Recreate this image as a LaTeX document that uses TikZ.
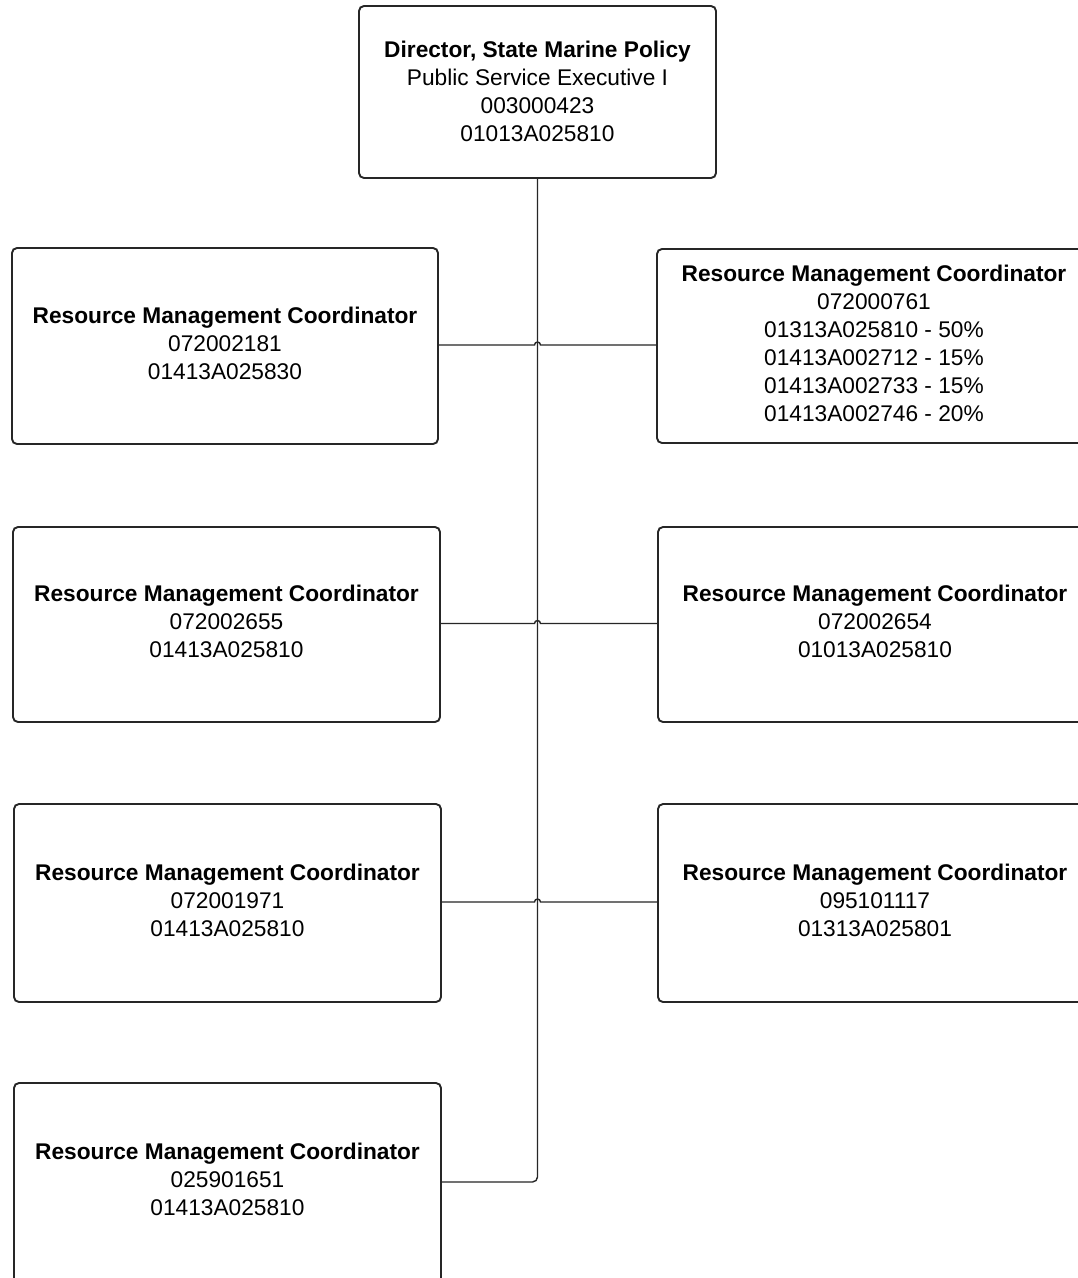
\documentclass[tikz,border=0pt]{standalone}
\usepackage{fontspec}
\setmainfont{Liberation Sans}
\newcommand{\lift}[1]{\rule[-#1]{0pt}{#1}}
\begin{document}
\begin{tikzpicture}[x=1pt,y=-1pt,
  box/.style={draw=black!85, line width=1.9pt, rounded corners=5pt, align=center, inner sep=0pt,
    font=\fontsize{22.7}{28}\selectfont},
  link/.style={draw=black!85, line width=1.4pt}]
\useasboundingbox (0,0) rectangle (1078,1278);
\clip (0,0) rectangle (1078,1278);
\fill[white] (0,0) rectangle (1078,1278);
\node[box, minimum width=357pt, minimum height=172pt] (top) at (537.5,92)
  {\textbf{Director, State Marine Policy}\\Public Service Executive I\\003000423\\01013A025810\lift{2pt}};
\node[box, minimum width=426pt, minimum height=196pt] (L1) at (225,346)
  {\textbf{Resource Management Coordinator}\\072002181\\01413A025830\lift{6pt}};
\node[box, minimum width=427pt, minimum height=195pt] (L2) at (226.5,624.5)
  {\textbf{Resource Management Coordinator}\\072002655\\01413A025810\lift{6pt}};
\node[box, minimum width=427pt, minimum height=198pt] (L3) at (227.5,903)
  {\textbf{Resource Management Coordinator}\\072001971\\01413A025810\lift{6pt}};
\node[box, minimum width=427pt, minimum height=203pt] (L4) at (227.5,1184.5)
  {\textbf{Resource Management Coordinator}\\025901651\\01413A025810\lift{11pt}};
\node[box, minimum width=434pt, minimum height=194pt] (R1) at (874,346)
  {\textbf{Resource Management Coordinator}\\072000761\\01313A025810 - 50\%\\01413A002712 - 15\%\\01413A002733 - 15\%\\01413A002746 - 20\%\lift{6pt}};
\node[box, minimum width=434pt, minimum height=195pt] (R2) at (875,624.5)
  {\textbf{Resource Management Coordinator}\\072002654\\01013A025810\lift{6pt}};
\node[box, minimum width=434pt, minimum height=198pt] (R3) at (875,903)
  {\textbf{Resource Management Coordinator}\\095101117\\01313A025801\lift{6pt}};
\coordinate (end4) at (L4.east |- 0,1182);
% trunk
\draw[link, rounded corners=5pt] (top.south) |- (end4);
% branches with a small hop over the trunk
\foreach \l/\r in {L1/R1,L2/R2,L3/R3}{
  \draw[link] ([yshift=1pt]\l.east) -- ([xshift=-3pt,yshift=1pt]\l.east -| top.south)
    arc[start angle=180, end angle=0, radius=3pt] -- ([yshift=1pt]\r.west);
}
\end{tikzpicture}
\end{document}
